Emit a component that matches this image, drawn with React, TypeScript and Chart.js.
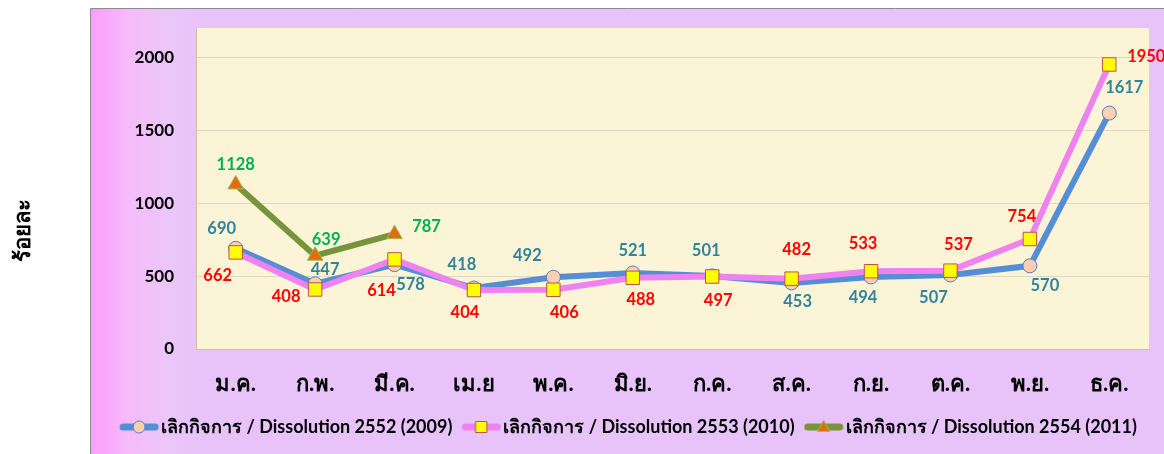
import React, { useEffect, useRef } from "react";
import { Chart, registerables } from "chart.js";

Chart.register(...registerables);

const months = ["ม.ค.", "ก.พ.", "มี.ค.", "เม.ย", "พ.ค.", "มิ.ย.", "ก.ค.", "ส.ค.", "ก.ย.", "ต.ค.", "พ.ย.", "ธ.ค."];
const series2552 = [690, 447, 578, 418, 492, 521, 501, 453, 494, 507, 570, 1617];
const series2553 = [662, 408, 614, 404, 406, 488, 497, 482, 533, 537, 754, 1950];
const series2554 = [1128, 639, 787, null, null, null, null, null, null, null, null, null];
const seriesNames = [
  "เลิกกิจการ / Dissolution 2552 (2009)",
  "เลิกกิจการ / Dissolution 2553 (2010)",
  "เลิกกิจการ / Dissolution 2554 (2011)",
];
const yTicks = [0, 500, 1000, 1500, 2000];
const yTitle = "ร้อยละ";

// label placement offsets (pixels) relative to each point
const offsets2552: [number, number][] = [[-14, -20], [10, -14], [16, 20], [-12, -23], [-26, -22], [0, -22], [-6, -25], [6, 19], [-8, 21], [-17, 23], [15, 20], [15, -25]];
const offsets2553: [number, number][] = [[-18, 23], [-29, 7], [-13, 31], [-9, 23], [11, 23], [8, 22], [6, 24], [5, -29], [-8, -28], [8, -26], [-8, -22], [37, -8]];
const offsets2554: [number, number][] = [[0, -20], [11, -16], [32, -7]];

const FONT = "Lato, 'Noto Sans', 'DejaVu Sans', sans-serif";

function legendIcon(kind: "circle" | "rect" | "triangle", line: string, fill: string, border: string) {
  const c = document.createElement("canvas");
  c.width = 40;
  c.height = 16;
  const ctx = c.getContext("2d")!;
  ctx.strokeStyle = line;
  ctx.lineWidth = 7;
  ctx.lineCap = "round";
  ctx.beginPath();
  ctx.moveTo(4, 8);
  ctx.lineTo(36, 8);
  ctx.stroke();
  ctx.fillStyle = fill;
  ctx.strokeStyle = border;
  ctx.lineWidth = 1;
  ctx.beginPath();
  if (kind === "circle") {
    ctx.arc(20, 8, 6, 0, Math.PI * 2);
  } else if (kind === "rect") {
    ctx.rect(14.5, 2.5, 11, 11);
  } else {
    ctx.moveTo(20, 1.5);
    ctx.lineTo(26, 12.5);
    ctx.lineTo(14, 12.5);
    ctx.closePath();
  }
  ctx.fill();
  ctx.stroke();
  return c;
}

const bgPlugin = {
  id: "bgPlugin",
  afterLayout(chart: any) {
    const lg = chart.legend;
    if (lg) {
      lg.left += 12;
      lg.right += 12;
    }
  },
  beforeDraw(chart: any) {
    const { ctx, chartArea } = chart;
    ctx.save();
    ctx.fillStyle = "#ffffff";
    ctx.fillRect(0, 0, chart.width, chart.height);
    const g = ctx.createLinearGradient(90, 0, 200, 0);
    g.addColorStop(0, "#FF9BFF");
    g.addColorStop(0.35, "#F6BBFA");
    g.addColorStop(0.7, "#EBC6F9");
    g.addColorStop(1, "#E7C3FA");
    ctx.fillStyle = g;
    ctx.fillRect(90, 8, chart.width - 90, chart.height - 8);
    ctx.strokeStyle = "#8C8C8C";
    ctx.lineWidth = 1;
    ctx.beginPath();
    ctx.moveTo(90.5, chart.height);
    ctx.lineTo(90.5, 8.5);
    ctx.lineTo(chart.width, 8.5);
    ctx.stroke();
    ctx.fillStyle = "#FBF4D6";
    ctx.fillRect(chartArea.left, chartArea.top, chartArea.right - chartArea.left, chartArea.bottom - chartArea.top);
    // y title
    ctx.translate(23, 230);
    ctx.rotate(-Math.PI / 2);
    ctx.fillStyle = "#000";
    ctx.font = `bold 22px ${FONT}`;
    ctx.textAlign = "center";
    ctx.textBaseline = "middle";
    ctx.fillText(yTitle, 0, 0);
    ctx.restore();
  },
};

const labelPlugin = {
  id: "labelPlugin",
  afterDatasetsDraw(chart: any) {
    const { ctx } = chart;
    const allOffsets = [offsets2552, offsets2553, offsets2554];
    const colors = ["#31849B", "#FF0000", "#00B050"];
    ctx.save();
    ctx.font = `bold 16.5px ${FONT}`;
    ctx.textAlign = "center";
    ctx.textBaseline = "middle";
    chart.data.datasets.forEach((ds: any, di: number) => {
      const meta = chart.getDatasetMeta(di);
      ds.data.forEach((v: number | null, i: number) => {
        if (v == null) return;
        const el = meta.data[i];
        const off = allOffsets[di][i] || [0, -18];
        ctx.fillStyle = colors[di];
        ctx.fillText(String(v), el.x + off[0], el.y + off[1]);
      });
    });
    ctx.restore();
  },
};

export default function App() {
  const ref = useRef<HTMLCanvasElement>(null);
  useEffect(() => {
    const icons = [
      legendIcon("circle", "#558ED5", "#FBCFAF", "#4F81BD"),
      legendIcon("rect", "#EE82EE", "#FFFF00", "#C0504D"),
      legendIcon("triangle", "#77933C", "#E46C0A", "#9BBB59"),
    ];
    const chart = new Chart(ref.current!, {
      type: "line",
      data: {
        labels: months,
        datasets: [
          {
            label: seriesNames[0],
            data: series2552,
            borderColor: "#558ED5",
            borderWidth: 6,
            pointStyle: "circle",
            pointRadius: 7,
            pointBackgroundColor: "#FBCFAF",
            pointBorderColor: "#4F81BD",
            pointBorderWidth: 1,
            order: 3,
          },
          {
            label: seriesNames[1],
            data: series2553,
            borderColor: "#EE82EE",
            borderWidth: 6,
            pointStyle: "rect",
            pointRadius: 9.5,
            pointBackgroundColor: "#FFFF00",
            pointBorderColor: "#C0504D",
            pointBorderWidth: 1,
            order: 2,
          },
          {
            label: seriesNames[2],
            data: series2554,
            borderColor: "#77933C",
            borderWidth: 6,
            pointStyle: "triangle",
            pointRadius: 9,
            pointBackgroundColor: "#E46C0A",
            pointBorderColor: "#9BBB59",
            pointBorderWidth: 1,
            order: 1,
          },
        ],
      },
      options: {
        responsive: false,
        animation: false,
        layout: { padding: { left: 90, right: 15, top: 28, bottom: 8 } },
        plugins: {
          tooltip: { enabled: false },
          legend: {
            position: "bottom",
            labels: {
              usePointStyle: true,
              pointStyleWidth: 26,
              padding: 16,
              color: "#000",
              font: { family: FONT, size: 18, weight: "bold" },
              sort: (a: any, b: any) => a.datasetIndex - b.datasetIndex,
              generateLabels: (ch: any) =>
                ch.data.datasets.map((ds: any, i: number) => ({
                  text: ds.label,
                  pointStyle: icons[i],
                  datasetIndex: i,
                  hidden: false,
                  fillStyle: "transparent",
                  strokeStyle: "transparent",
                  lineWidth: 0,
                  fontColor: "#000",
                })),
            },
          },
        },
        scales: {
          x: {
            offset: true,
            grid: { display: false, drawTicks: false },
            border: { display: true, color: "#C9C3A6", width: 1 },
            ticks: { color: "#000", padding: 22, font: { family: FONT, size: 22, weight: "bold" } },
            afterFit: (s: any) => {
              s.height = 53;
            },
          },
          y: {
            min: 0,
            max: 2200,
            grid: { color: "#DCD7C4", drawTicks: false },
            border: { display: true, color: "#C9C3A6", width: 1 },
            ticks: {
              padding: 22,
              color: "#000",
              font: { family: FONT, size: 17, weight: "bold" },
              callback: (v: any) => String(v),
            },
            afterBuildTicks: (s: any) => {
              s.ticks = yTicks.map((v) => ({ value: v }));
            },
            afterFit: (s: any) => {
              s.width = 106;
              s.paddingTop = 0;
              s.paddingBottom = 0;
            },
          },
        },
      },
      plugins: [bgPlugin, labelPlugin],
    });
    return () => chart.destroy();
  }, []);
  return (
    <div style={{ position: "absolute", left: 0, top: 0, width: 1164, height: 454 }}>
      <canvas ref={ref} width={1164} height={454} style={{ display: "block" }} />
    </div>
  );
}
